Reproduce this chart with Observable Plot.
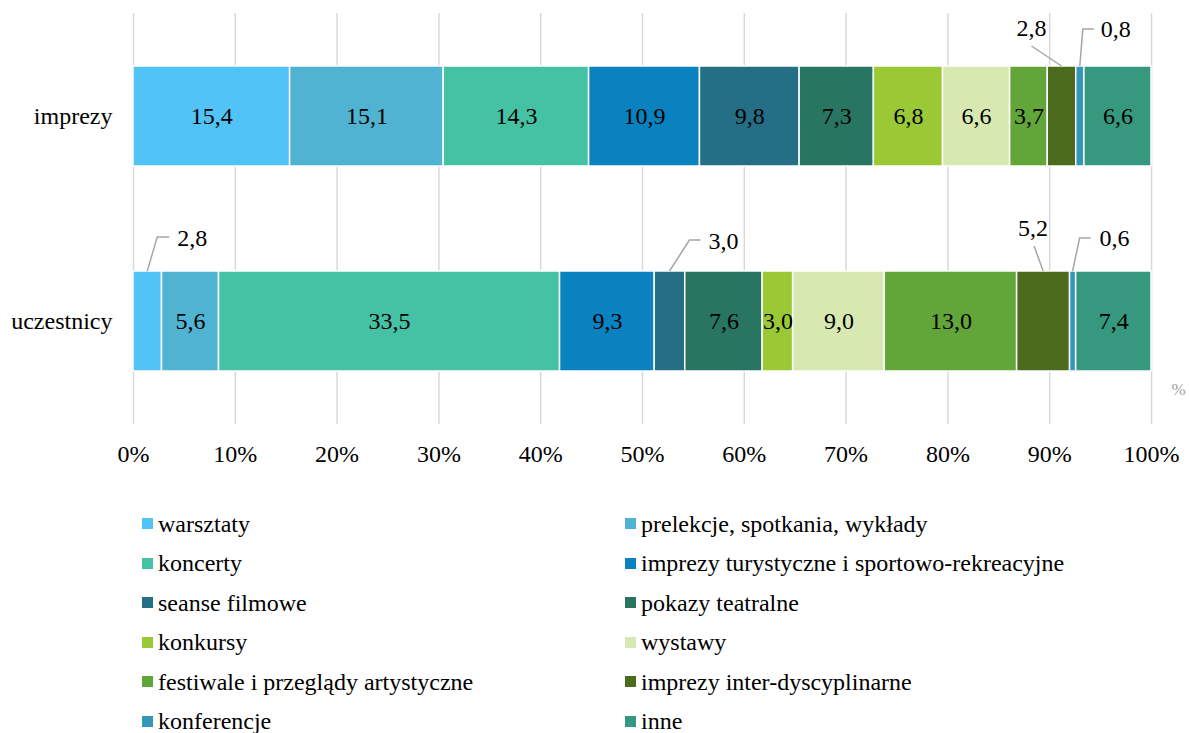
<!DOCTYPE html>
<html><head><meta charset="utf-8">
<script src="https://cdn.jsdelivr.net/npm/d3@7"></script>
<script src="https://cdn.jsdelivr.net/npm/@observablehq/plot@0.6"></script>
<style>
body{margin:0;background:#fff;font-family:"Liberation Serif","Times New Roman",Tinos,serif;}
#chart{position:relative;width:1189px;height:733px;overflow:hidden}
#chart svg{position:absolute;left:0;top:0}
.legend{position:absolute;left:142px;top:504px;display:grid;grid-template-columns:483px 520px;grid-auto-rows:39.5px;font-size:24px;line-height:1;color:#000}
.legend .item{display:flex;align-items:center;white-space:nowrap}
.legend .sw{width:11px;height:11px;margin-right:5px;flex:none}
</style></head><body><div id="chart"></div>
<script>
const categories = ["imprezy", "uczestnicy"];
const seriesNames = [
  "warsztaty",
  "prelekcje, spotkania, wykłady",
  "koncerty",
  "imprezy turystyczne i sportowo-rekreacyjne",
  "seanse filmowe",
  "pokazy teatralne",
  "konkursy",
  "wystawy",
  "festiwale i przeglądy artystyczne",
  "imprezy inter-dyscyplinarne",
  "konferencje",
  "inne"
];
const imprezyValues    = [15.4, 15.1, 14.3, 10.9, 9.8, 7.3, 6.8, 6.6, 3.7, 2.8, 0.8, 6.6];
const uczestnicyValues = [2.8, 5.6, 33.5, 9.3, 3.0, 7.6, 3.0, 9.0, 13.0, 5.2, 0.6, 7.4];
const xTicks = [0, 0.1, 0.2, 0.3, 0.4, 0.5, 0.6, 0.7, 0.8, 0.9, 1];
const colors = ["#52c3f7", "#4fb3d1", "#45c1a4", "#0a82bf", "#246f86", "#287562",
                "#9bc935", "#d7e9b1", "#62a539", "#4c6b1d", "#3497b9", "#36997f"];
// segments labelled outside the bar with a leader line
const calloutImprezy = ["imprezy inter-dyscyplinarne", "konferencje"];
const calloutUczestnicy = ["warsztaty", "seanse filmowe", "imprezy inter-dyscyplinarne", "konferencje"];

// leader-line geometry (pixel offsets from segment's top centre) — layout only
const calloutStyle = {
  "imprezy|imprezy inter-dyscyplinarne": {pts: [[0,0],[-30,-20]], tx: -30, ty: -38, anchor: "middle"},
  "imprezy|konferencje": {pts: [[0,0],[3,-37],[14,-37]], tx: 21, ty: -37, anchor: "start"},
  "uczestnicy|warsztaty": {pts: [[0,0],[10,-34],[22,-34]], tx: 30, ty: -33, anchor: "start"},
  "uczestnicy|seanse filmowe": {pts: [[0,0],[20,-31],[31,-31]], tx: 39, ty: -30, anchor: "start"},
  "uczestnicy|imprezy inter-dyscyplinarne": {pts: [[0,0],[-9,-25]], tx: -10, ty: -43, anchor: "middle"},
  "uczestnicy|konferencje": {pts: [[0,0],[7,-33],[18,-33]], tx: 27, ty: -33, anchor: "start"}
};

const valuesByCat = {imprezy: imprezyValues, uczestnicy: uczestnicyValues};
const calloutsByCat = {imprezy: calloutImprezy, uczestnicy: calloutUczestnicy};
const data = [];
for (const c of categories) {
  valuesByCat[c].forEach((v, i) => data.push({cat: c, series: seriesNames[i], value: v,
    outside: calloutsByCat[c].includes(seriesNames[i])}));
}
const fmt = v => d3.format(".1f")(v).replace(".", ",");
const FS = 24;

const plot = Plot.plot({
  width: 1189,
  height: 500,
  marginTop: 13,
  marginBottom: 76,
  marginLeft: 133,
  marginRight: 38,
  style: {fontFamily: "'Liberation Serif', 'Times New Roman', Tinos, serif", fontSize: FS + "px", color: "#000", background: "transparent"},
  x: {domain: [0, 1]},
  y: {domain: categories, paddingInner: 0.51, paddingOuter: 0.255, label: null},
  color: {domain: seriesNames, range: colors},
  marks: [
    Plot.ruleX(xTicks, {stroke: "#d9d9d9", strokeWidth: 1.5}),
    Plot.barX(data, Plot.stackX({x: "value", y: "cat", fill: "series", offset: "normalize", stroke: "#fff", strokeWidth: 1.5})),
    Plot.text(data, Plot.stackX({x: "value", y: "cat", z: "series", offset: "normalize",
      text: d => d.outside ? null : fmt(d.value), fill: "#000", fontSize: FS})),
    Plot.axisX({ticks: xTicks, tickFormat: d3.format(".0%"), tickSize: 0, tickPadding: 20, fontSize: FS, label: null}),
    Plot.axisY({tickSize: 0, tickPadding: 21, fontSize: FS, label: null}),
    Plot.text(["%"], {frameAnchor: "bottom-right", dx: 27, dy: -30, fill: "#a0a0a0", fontSize: 17, textAnchor: "middle"})
  ]
});

// callout labels using the plot's own scales
const xs = plot.scale("x"), ys = plot.scale("y");
const svg = d3.select(plot);
for (const c of categories) {
  const vals = valuesByCat[c];
  const total = d3.sum(vals);
  let cum = 0;
  vals.forEach((v, i) => {
    const name = seriesNames[i];
    const start = cum; cum += v;
    if (!calloutsByCat[c].includes(name)) return;
    const st = calloutStyle[c + "|" + name];
    const cx = xs.apply((start + v / 2) / total);
    const top = ys.apply(c);
    svg.append("path")
      .attr("d", d3.line()(st.pts.map(([dx, dy]) => [cx + dx, top + dy])))
      .attr("fill", "none").attr("stroke", "#a6a6a6").attr("stroke-width", 1.5);
    svg.append("text")
      .attr("x", cx + st.tx).attr("y", top + st.ty)
      .attr("text-anchor", st.anchor).attr("dominant-baseline", "central")
      .attr("font-size", FS).attr("fill", "#000")
      .text(fmt(v));
  });
}

const chart = document.getElementById("chart");
chart.appendChild(plot);
const legend = document.createElement("div");
legend.className = "legend";
seriesNames.forEach((s, i) => {
  const it = document.createElement("div");
  it.className = "item";
  it.innerHTML = `<span class="sw" style="background:${colors[i]}"></span><span>${s}</span>`;
  legend.appendChild(it);
});
chart.appendChild(legend);
</script></body></html>
